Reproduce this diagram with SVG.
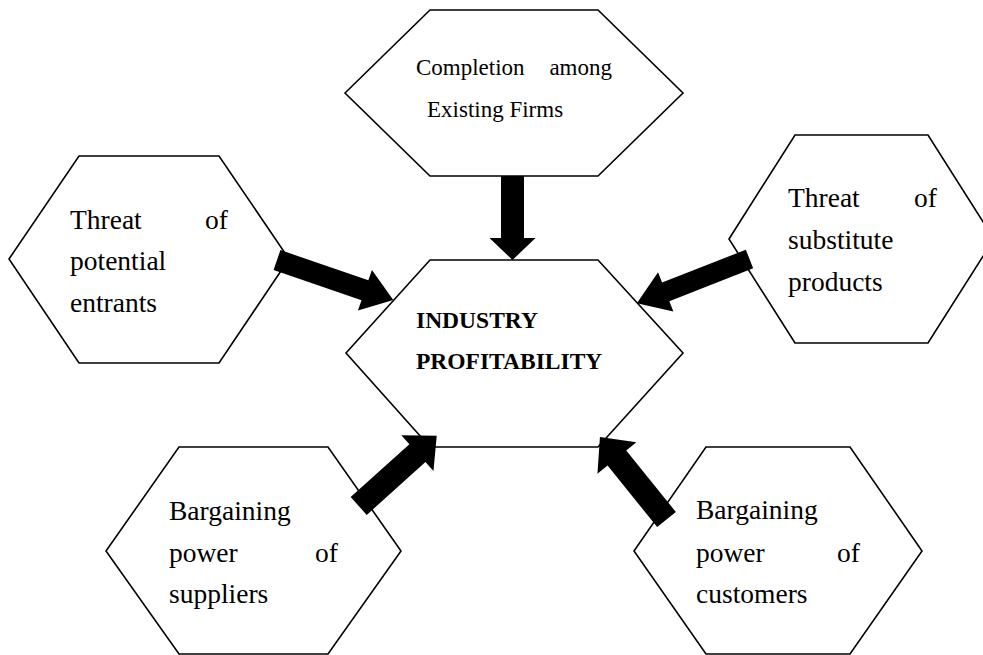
<svg xmlns="http://www.w3.org/2000/svg" width="983" height="655" viewBox="0 0 983 655">
<style>
.hex{fill:#fff;stroke:#000;stroke-width:1.6;stroke-linejoin:miter}
.arr{fill:#000;stroke:none}
.t{font-family:"Liberation Serif","Times New Roman",serif;font-size:27.5px;fill:#000}
.s{font-family:"Liberation Serif","Times New Roman",serif;font-size:23px;fill:#000}
.b{font-family:"Liberation Serif","Times New Roman",serif;font-size:23.5px;font-weight:bold;fill:#000}
</style>
<rect width="983" height="655" fill="#fff"/>
<g id="node-competition">
<polygon class="hex" points="345,93 430,10 598,10 683,93 598,176 430,176"/>
<text class="s"><tspan x="416" y="75">Completion</tspan><tspan x="612" y="75" text-anchor="end">among</tspan><tspan x="427" y="117">Existing Firms</tspan></text>
</g>
<g id="node-entrants">
<polygon class="hex" points="9,259 79,156 219,156 289,259 219,363 79,363"/>
<text class="t"><tspan x="70" y="229">Threat</tspan><tspan x="228" y="229" text-anchor="end">of</tspan><tspan x="70" y="270">potential</tspan><tspan x="70" y="312">entrants</tspan></text>
</g>
<g id="node-substitutes">
<polygon class="hex" points="729,239 795,135 928,135 994,239 928,343 795,343"/>
<text class="t"><tspan x="788" y="207">Threat</tspan><tspan x="937" y="207" text-anchor="end">of</tspan><tspan x="788" y="249">substitute</tspan><tspan x="788" y="291">products</tspan></text>
</g>
<g id="node-industry">
<polygon class="hex" points="346,353 430,260 598,260 683,353 598,447 430,447"/>
<text class="b"><tspan x="416" y="328">INDUSTRY</tspan><tspan x="416" y="369">PROFITABILITY</tspan></text>
</g>
<g id="node-suppliers">
<polygon class="hex" points="106,551 179,447 328,447 401,551 328,654 179,654"/>
<text class="t"><tspan x="169" y="520">Bargaining</tspan><tspan x="169" y="562">power</tspan><tspan x="338" y="562" text-anchor="end">of</tspan><tspan x="169" y="603">suppliers</tspan></text>
</g>
<g id="node-customers">
<polygon class="hex" points="634,551 706,447 850,447 922,551 850,654 706,654"/>
<text class="t"><tspan x="696" y="519">Bargaining</tspan><tspan x="696" y="562">power</tspan><tspan x="860" y="562" text-anchor="end">of</tspan><tspan x="696" y="603">customers</tspan></text>
</g>
<g id="connectors">
<polygon class="arr" transform="translate(512.5,176) rotate(90)" points="0,-11.5 62,-11.5 62,-23 84,0 62,23 62,11.5 0,11.5"/>
<polygon class="arr" transform="translate(277,260) rotate(19)" points="0,-10.5 93,-10.5 93,-21.5 123,0 93,21.5 93,10.5 0,10.5"/>
<polygon class="arr" transform="translate(749.5,259) rotate(158.6)" points="0,-10 90,-10 90,-21 121,0 90,21 90,10 0,10"/>
<polygon class="arr" transform="translate(358.7,506) rotate(-42)" points="0,-12 79,-12 79,-24 105,0 79,24 79,12 0,12"/>
<polygon class="arr" transform="translate(666.5,519.5) rotate(-128.9)" points="0,-12 79,-12 79,-25 106,0 79,25 79,12 0,12"/>
</g>
</svg>
